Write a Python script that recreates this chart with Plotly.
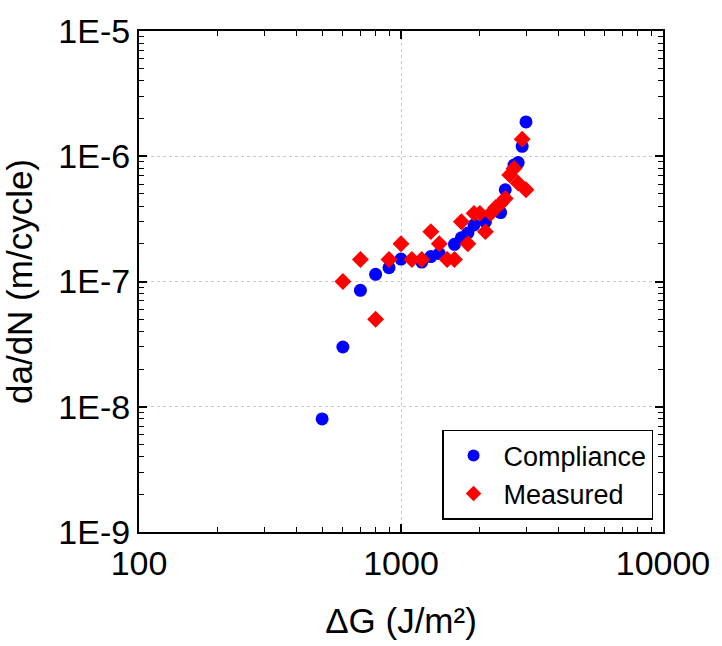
import plotly.graph_objects as go

# Compliance series
comp_x = [500, 600, 700, 800, 900, 1000, 1200, 1300, 1400, 1600, 1700, 1800, 1900,
          2100, 2300, 2400, 2500, 2700, 2800, 2900, 3000]
comp_y = [8.0e-9, 3.0e-8, 8.5e-8, 1.14e-7, 1.29e-7, 1.51e-7, 1.43e-7, 1.58e-7, 1.67e-7,
          1.98e-7, 2.23e-7, 2.44e-7, 2.83e-7, 3.0e-7, 3.81e-7, 3.55e-7, 5.4e-7,
          8.5e-7, 8.9e-7, 1.2e-6, 1.88e-6]

# Measured series
meas_x = [600, 700, 800, 900, 1000, 1100, 1200, 1300, 1400, 1500, 1600, 1700, 1800,
          1900, 2000, 2100, 2200, 2300, 2400, 2500, 2600, 2700, 2800, 2900, 3000]
meas_y = [1.0e-7, 1.5e-7, 5.0e-8, 1.5e-7, 2.0e-7, 1.5e-7, 1.5e-7, 2.5e-7, 2.0e-7,
          1.5e-7, 1.5e-7, 3.0e-7, 2.0e-7, 3.5e-7, 3.5e-7, 2.5e-7, 3.5e-7, 3.9e-7,
          4.2e-7, 4.6e-7, 7.1e-7, 8.0e-7, 6.1e-7, 1.37e-6, 5.4e-7]

x_tickvals = [100, 1000, 10000]
x_ticktext = ["100", "1000", "10000"]
y_tickvals = [1e-9, 1e-8, 1e-7, 1e-6, 1e-5]
y_ticktext = ["1E-9", "1E-8", "1E-7", "1E-6", "1E-5"]

FONT = "Arial, Liberation Sans, sans-serif"

fig = go.Figure()
fig.add_trace(go.Scatter(x=comp_x, y=comp_y, mode="markers", name="Compliance",
                         marker=dict(symbol="circle", size=13, color="#0000ff")))
fig.add_trace(go.Scatter(x=meas_x, y=meas_y, mode="markers", name="Measured",
                         marker=dict(symbol="diamond", size=13, color="#ff0000")))

axis_common = dict(
    type="log", showline=True, linecolor="black", linewidth=2, mirror="allticks",
    ticks="inside", ticklen=8, tickwidth=1.5, tickcolor="black",
    showgrid=True, gridcolor="#c8c8c8", griddash="dot", gridwidth=1,
    zeroline=False, tickfont=dict(size=34, color="black", family=FONT),
    minor=dict(ticks="inside", ticklen=5, tickwidth=1.2, tickcolor="black",
               showgrid=False, dtick="D1"),
)

fig.update_layout(
    width=722, height=646,
    margin=dict(l=139, r=51, t=24, b=109),
    paper_bgcolor="white", plot_bgcolor="white",
    font=dict(family=FONT, color="black"),
    showlegend=True,
    legend=dict(x=0.981, y=0.114, xanchor="right", yanchor="middle",
                bordercolor="black", borderwidth=1.5, bgcolor="white",
                font=dict(size=27, family=FONT, color="black"),
                tracegroupgap=0, itemsizing="constant", itemwidth=50),
)
fig.update_xaxes(**axis_common, range=[2, 4], tickvals=x_tickvals, ticktext=x_ticktext,
                 title=dict(text="ΔG (J/m²)", font=dict(size=35, family=FONT), standoff=28),
                 ticklabelstandoff=0)
fig.update_yaxes(**axis_common, range=[-9, -5], tickvals=y_tickvals, ticktext=y_ticktext,
                 title=dict(text="da/dN (m/cycle)", font=dict(size=35, family=FONT), standoff=15),
                 ticklabelstandoff=0)

fig.write_html("out.html")
